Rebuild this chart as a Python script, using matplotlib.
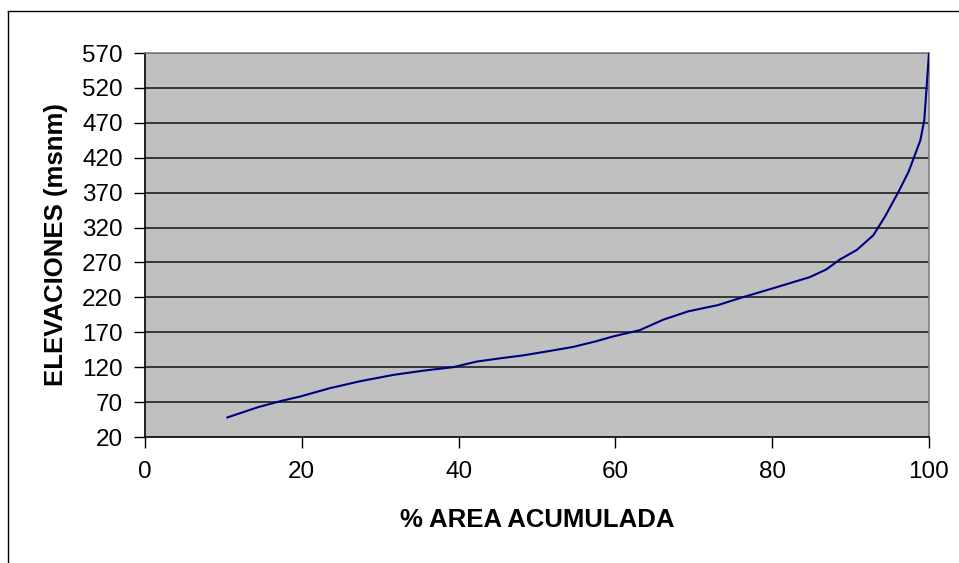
import matplotlib
matplotlib.use("Agg")
import matplotlib.pyplot as plt
from matplotlib.lines import Line2D

area_pct = [10.5, 14.5, 17.5, 19.8, 23.6, 27.5, 31.7, 35.5, 39.3, 42.3, 45.5, 48.3,
            51.5, 54.6, 57.5, 59.7, 63.1, 66.1, 69.3, 73.1, 75.9, 80.1, 84.8, 86.9,
            88.6, 90.8, 92.9, 94.4, 96.1, 97.4, 98.9, 99.4, 99.7, 100.0]
elev = [48, 63, 72, 78, 90, 100, 109, 115, 120, 128, 133, 137,
        143, 149, 157, 164, 173, 188, 200, 209, 219, 233, 249, 260,
        274, 288, 309, 336, 371, 400, 445, 474, 522, 570]

xticks = [0, 20, 40, 60, 80, 100]
yticks = [20, 70, 120, 170, 220, 270, 320, 370, 420, 470, 520, 570]

plt.rcParams['font.family'] = ['Liberation Sans', 'DejaVu Sans']

fig = plt.figure(figsize=(9.59, 5.63), dpi=100)
ax = fig.add_axes([145/959, 1-437/563, (929-145)/959, (437-53)/563])
ax.set_facecolor('#C0C0C0')

for y in yticks[1:]:
    ax.axhline(y, color='#202020', lw=1.2, zorder=1)

ax.plot(area_pct, elev, color='#000080', lw=1.5, zorder=3)

ax.set_xlim(0, 100)
ax.set_ylim(20, 570)
ax.set_xticks(xticks)
ax.set_yticks(yticks)
ax.tick_params(axis='both', direction='out', length=8, width=1, labelsize=17.5, colors='black')
ax.tick_params(axis='y', pad=8)
ax.tick_params(axis='x', pad=9)

for s in ['top', 'right']:
    ax.spines[s].set_color('#808080')
    ax.spines[s].set_linewidth(1.2)
for s in ['left', 'bottom']:
    ax.spines[s].set_color('black')
    ax.spines[s].set_linewidth(1.2)

ax.set_xlabel('% AREA ACUMULADA', fontsize=18.5, fontweight='bold', labelpad=18)
ax.set_ylabel('ELEVACIONES (msnm)', fontsize=18.5, fontweight='bold', labelpad=10)

fig.add_artist(Line2D([8/959, 1.0], [1-11/563, 1-11/563], transform=fig.transFigure, color='black', lw=1))
fig.add_artist(Line2D([8/959, 8/959], [0, 1-11/563], transform=fig.transFigure, color='black', lw=1))

fig.savefig('out.png', dpi=100)
